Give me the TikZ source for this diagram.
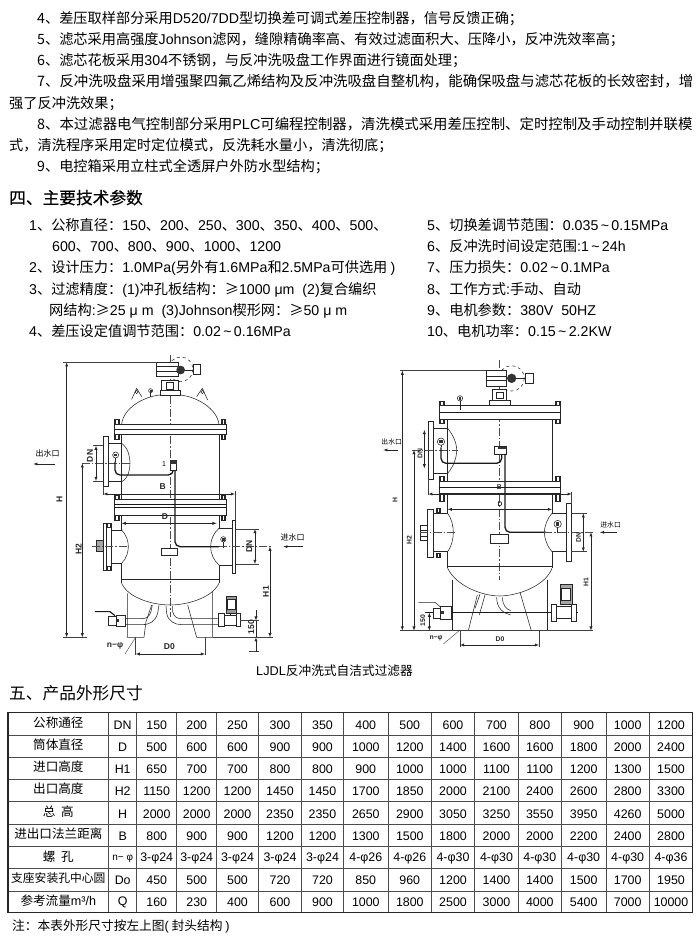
\documentclass[tikz,border=0pt]{standalone}
\usepackage{fontspec}
\setmainfont{Noto Sans CJK SC}
\newfontfamily\arialf{Liberation Sans}
\newfontfamily\headf[FakeBold=0.4]{Noto Sans CJK SC}
\usetikzlibrary{positioning}

\newcommand{\lat}[1]{{\arialf #1}}
\newcommand{\sz}[1]{\fontsize{#1}{#1}\selectfont}
\newcommand{\tld}{\lat{\,\textasciitilde\,}}
\newcommand{\colcx}[1]{\ifcase#1 58.35\or122.7\or156.7\or196.7\or237.5\or280\or322.5\or365.8\or409.8\or453\or496.5\or539.8\or583.65\or627.65\or671\fi}
\newcommand{\rowcy}[1]{\ifcase#1 723.85\or746.15\or768.15\or790.35\or812.85\or835.35\or857.5\or879.65\or901.65\fi}

% bolt through a flange, gauge on its stem
\newcommand{\bolt}[3]{
  \draw[part, fill=white] (#1-7,#2) rectangle (#1+7,#3);
  \draw[part] (#1-4,#2) -- (#1-4,#3) (#1+4,#2) -- (#1+4,#3);
}
\newcommand{\gauge}[4]{
  \draw[part] (#1,#2) -- (#1,#4);
  \draw[part, fill=white] (#1,#2) circle (#3);
  \fill[black!80] (#1-#3*0.45,#2-#3*0.45) rectangle (#1+#3*0.45,#2+#3*0.45);
}

\begin{document}
\begin{tikzpicture}[x=1pt, y=-1pt]

  \tikzstyle{para}=[anchor=west, inner sep=0pt, text height=11pt, text depth=3pt, yshift=-1pt, font=\sz{14.2}, text=black]
  \tikzstyle{fullline}=[para, font=\sz{14.4}]
  \tikzstyle{heading}=[para, font=\sz{16.7}]
  \tikzstyle{caption}=[para, font=\sz{12.7}]
  \tikzstyle{note}=[para, font=\sz{12.7}]
  \tikzstyle{cell}=[inner sep=0pt, font=\arialf\sz{12.4}, text=black]
  \tikzstyle{rowname}=[inner sep=0pt, font=\sz{12.6}, text=black]
  \tikzstyle{tablerule}=[line width=0.6pt, black!70]
  \tikzstyle{tableframe}=[line width=1.3pt, black!85]
  \tikzstyle{part}=[line width=0.55pt, black!85]
  \tikzstyle{heavy}=[line width=1.1pt, black!90]
  \tikzstyle{tube}=[line width=1.3pt, black!90, rounded corners=5pt]
  \tikzstyle{axis}=[line width=0.35pt, black!70, dash pattern=on 8pt off 2pt on 1.5pt off 2pt]
  \tikzstyle{dim}=[latex-latex, line width=0.45pt, black!85]
  \tikzstyle{ext}=[line width=0.4pt, black!75]
  \tikzstyle{dimtext}=[inner sep=0pt, font=\arialf\bfseries\sz{8.5}, text=black!85]
  \tikzstyle{smalltext}=[dimtext, font=\arialf\bfseries\sz{6.8}]
  \tikzstyle{port}=[inner sep=0pt, font=\sz{8}, text=black]

  \useasboundingbox (0,0) rectangle (700,937);

  % text above the drawings
  \node[para] (item4) at (37,18.3) {4、差压取样部分采用\lat{D520/7DD}型切换差可调式差压控制器，信号反馈正确；};
  \node[para] (item5) at (37,39.3) {5、滤芯采用高强度\lat{Johnson}滤网，缝隙精确率高、有效过滤面积大、压降小，反冲洗效率高；};
  \node[para] (item6) at (37,60) {6、滤芯花板采用\lat{304}不锈钢，与反冲洗吸盘工作界面进行镜面处理；};
  \node[fullline] (item7) at (37,81.7) {7、反冲洗吸盘采用增强聚四氟乙烯结构及反冲洗吸盘自整机构，能确保吸盘与滤芯花板的长效密封，增};
  \node[para] (item7b) at (9,103.3) {强了反冲洗效果；};
  \node[fullline] (item8) at (37,124.3) {8、本过滤器电气控制部分采用\lat{PLC}可编程控制器，清洗模式采用差压控制、定时控制及手动控制并联模};
  \node[para] (item8b) at (9,145.7) {式，清洗程序采用定时定位模式，反洗耗水量小，清洗彻底；};
  \node[para] (item9) at (37,166.7) {9、电控箱采用立柱式全透屏户外防水型结构；};

  \node[heading, font=\headf\sz{16.7}] (params) at (9,199) {四、主要技术参数};

  \node[para] (param1) at (29,225) {\lat{1}、公称直径：\lat{150}、\lat{200}、\lat{250}、\lat{300}、\lat{350}、\lat{400}、\lat{500}、};
  \node[para] (param1b) at (52,246.7) {\lat{600}、\lat{700}、\lat{800}、\lat{900}、\lat{1000}、\lat{1200}};
  \node[para] (param2) at (29,267.7) {\lat{2}、设计压力：\lat{1.0MPa(}另外有\lat{1.6MPa}和\lat{2.5MPa}可供选用 \lat{)}};
  \node[para] (param3) at (29,289.3) {\lat{3}、过滤精度：\lat{(1)}冲孔板结构：≥\lat{1000 μm \ (2)}复合编织};
  \node[para] (param3b) at (49,310.7) {网结构\lat{:}≥\lat{25 μ m \ (3)Johnson}楔形网：≥\lat{50 μ m}};
  \node[para] (param4) at (29,331.7) {\lat{4}、差压设定值调节范围：\lat{0.02}\tld\lat{0.16MPa}};

  \node[para] (param5) at (427,225) {\lat{5}、切换差调节范围：\lat{0.035}\tld\lat{0.15MPa}};
  \node[para] (param6) at (427,246.7) {\lat{6}、反冲洗时间设定范围\lat{:1}\tld\lat{24h}};
  \node[para] (param7) at (427,267.7) {\lat{7}、压力损失：\lat{0.02}\tld\lat{0.1MPa}};
  \node[para] (param8) at (427,289.3) {\lat{8}、工作方式\lat{:}手动、自动};
  \node[para] (param9) at (427,310.7) {\lat{9}、电机参数：\lat{380V \ 50HZ}};
  \node[para] (param10) at (427,331.7) {\lat{10}、电机功率：\lat{0.15}\tld\lat{2.2KW}};

  % left filter
  \begin{scope}[xshift=20pt, yshift=-350pt, x=0.3333pt, y=-0.3333pt]
    \draw[axis] (450,15) -- (450,800);
    % vessel
    \draw[part] (305,222) .. controls (310,175) and (370,140) .. (420,135) -- (480,135) .. controls (530,140) and (590,175) .. (597,222);
    \draw[part] (305,252) -- (305,447) (597,252) -- (597,447);
    \draw[part] (305,495) -- (305,540) (597,495) -- (597,535);
    \draw[part] (305,640) -- (305,700) (597,645) -- (597,700);
    \draw[part] (305,687) -- (597,687);
    \draw[part] (305,700) .. controls (325,745) and (400,765) .. (450,765) .. controls (500,765) and (575,745) .. (597,700);
    % flanges
    \draw[part, fill=white] (283,222) rectangle (618,252);
    \draw[part] (283,237) -- (618,237);
    \bolt{290}{208}{222} \bolt{610}{208}{222} \bolt{290}{252}{268} \bolt{610}{252}{268}
    \draw[part, fill=white] (283,447) rectangle (618,495);
    \draw[heavy] (283,463) -- (618,463) (283,472) -- (618,472);
    \bolt{290}{435}{447} \bolt{610}{435}{447} \bolt{290}{495}{510} \bolt{610}{495}{510}
    % drive on top
    \draw[part, fill=white] (420,120) rectangle (480,135);
    \draw[part, fill=white] (425,90) rectangle (475,120);
    \draw[part] (438,98) rectangle (460,118);
    \draw[part, dashed] (482,58) circle (37);
    \draw[part, fill=white] (410,37) rectangle (475,80);
    \draw[part] (410,50) -- (475,50) (410,65) -- (475,65);
    \draw[part, fill=white] (520,42) rectangle (540,72);
    \draw[part] (482,60) -- (520,60);
    \fill[black!80] (482,60) circle (13);
    % lugs and top gauge
    \draw[part] (335,148) -- (350,115) -- (365,140);
    \draw[part] (530,140) -- (547,115) -- (563,150);
    \draw[part] (350,126) circle (5) (547,126) circle (5);
    \gauge{392}{122}{6}{142}
    % outlet nozzle
    \draw[part] (305,280) -- (265,280) (305,395) -- (265,395);
    \draw[part] (305,280) .. controls (325,295) and (330,320) .. (330,340) .. controls (330,360) and (325,385) .. (305,395);
    \draw[part, fill=white] (250,260) rectangle (265,410);
    \draw[axis] (185,340) -- (335,340);
    \gauge{287}{315}{9}{335}
    % sensing tubes
    \draw[tube] (285,335) -- (285,375) -- (460,375) -- (460,355);
    \draw[part, fill=white] (450,330) rectangle (470,362);
    \fill[black!80] (450,330) rectangle (470,342);
    \draw[tube] (465,362) -- (465,590) -- (597,590);
    \node[inner sep=0pt, font=\arialf\sz{7}] (leftone) at (432,341) {1};
    % inlet side
    \draw[part] (305,540) -- (275,540) (305,640) -- (275,640);
    \draw[part] (305,540) .. controls (320,555) and (325,575) .. (325,590) .. controls (325,605) and (320,625) .. (305,640);
    \draw[part, fill=white] (250,520) rectangle (275,660);
    \draw[part, fill=black!35] (230,570) rectangle (250,605);
    \draw[part] (258,520) -- (258,660);
    \bolt{266}{520}{532} \bolt{266}{648}{660}
    \draw[axis] (215,590) -- (325,590);
    \draw[part] (597,535) -- (637,535) (597,645) -- (637,645);
    \draw[part] (597,535) .. controls (580,550) and (572,570) .. (572,590) .. controls (572,610) and (580,630) .. (597,645);
    \draw[part, fill=white] (637,510) rectangle (647,670);
    \gauge{610}{568}{8}{595}
    \draw[part, fill=white] (425,595) rectangle (472,617);
    \draw[axis] (597,590) -- (755,590);
    % supports and drain pipes
    \draw[part] (322,730) -- (322,862) -- (372,862) -- (378,815) -- (395,765);
    \draw[part] (503,765) -- (530,862) -- (578,862) -- (578,725);
    \draw[part] (397,765) -- (393,785) .. controls (388,800) and (380,806) .. (365,806) -- (315,806);
    \draw[part] (417,765) -- (413,790) .. controls (405,815) and (390,824) .. (365,824) -- (315,824);
    \draw[part] (438,768) -- (440,790) .. controls (445,815) and (465,824) .. (485,824) -- (595,824);
    \draw[part] (458,768) -- (458,785) .. controls (462,800) and (470,806) .. (485,806) -- (595,806);
    % valves
    \draw[part, fill=white] (265,800) rectangle (290,825);
    \draw[part, fill=white] (290,797) rectangle (315,828);
    \fill[black!80] (287,808) rectangle (296,817);
    \draw[heavy] (225,785) -- (270,785) -- (285,797);
    \draw[part, fill=white] (595,790) rectangle (612,830);
    \draw[part, fill=white] (612,797) rectangle (648,825);
    \draw[part, fill=white] (648,790) rectangle (660,830);
    \draw[part] (630,790) -- (630,797);
    \draw[part, fill=black!40] (618,738) rectangle (650,790);
    \draw[part, fill=white] (622,748) rectangle (645,778);
    % dimensions
    \draw[ext] (130,37) -- (410,37);
    \draw[dim] (140,37) -- (140,862);
    \draw[ext] (130,862) -- (200,862);
    \draw[dim] (187,340) -- (187,862);
    \node[dimtext, rotate=90] (leftH) at (118,447) {H};
    \node[dimtext, rotate=90] (leftHtwo) at (176,597) {H2};
    \draw[dim] (228,287) -- (228,393);
    \draw[ext] (220,287) -- (250,287) (220,393) -- (250,393);
    \node[dimtext, rotate=90] (leftDNa) at (210,318) {DN};
    \node[port] (leftout) at (83,310) {出水口};
    \draw[dim, latex-] (40,342) -- (105,342);
    \draw[dim] (250,432) -- (645,432);
    \draw[ext] (250,412) -- (250,436) (645,422) -- (645,510);
    \node[dimtext] (leftB) at (428,410) {B};
    \draw[dim] (305,520) -- (590,520);
    \node[dimtext] (leftD) at (435,500) {D};
    \draw[ext] (647,537) -- (716,537) (647,642) -- (716,642);
    \draw[dim] (705,537) -- (705,642);
    \node[dimtext, rotate=90] (leftDNb) at (688,590) {DN};
    \node[port] (leftin) at (818,562) {进水口};
    \draw[dim, latex-] (790,590) -- (850,590);
    \draw[dim] (750,590) -- (750,862);
    \draw[ext] (578,862) -- (760,862);
    \node[dimtext, rotate=90] (leftHone) at (738,725) {H1};
    \draw[ext] (660,812) -- (716,812) (688,905) -- (716,905);
    \draw[dim, -latex] (708,780) -- (708,812);
    \draw[dim, -latex] (708,905) -- (708,862);
    \draw[part] (708,812) -- (708,862);
    \node[dimtext, rotate=90] (leftfifty) at (694,832) {150};
    \node[dimtext] (leftbolts) at (285,888) {n−φ};
    \draw[ext] (315,912) -- (345,865);
    \draw[ext] (347,862) -- (347,916) (555,862) -- (555,916);
    \draw[dim] (347,912) -- (555,912);
    \node[dimtext] (leftDzero) at (448,890) {D0};
  \end{scope}

  % right filter
  \begin{scope}[xshift=370pt, yshift=-350pt, x=0.3333pt, y=-0.3333pt]
    \draw[axis] (388,30) -- (388,690);
    % vessel
    \draw[part] (233,208) -- (233,395) (546,208) -- (546,395);
    \draw[part] (233,430) -- (233,490) (546,430) -- (546,490);
    \draw[part] (233,605) -- (233,655) (546,605) -- (546,655);
    \draw[part] (233,650) -- (546,650);
    \draw[part] (233,655) .. controls (260,710) and (340,738) .. (388,738) .. controls (440,738) and (525,710) .. (546,655);
    % flanges
    \draw[part, fill=white] (207,167) rectangle (572,208);
    \draw[heavy] (207,187) -- (572,187);
    \bolt{215}{155}{167} \bolt{563}{155}{167} \bolt{215}{208}{220} \bolt{563}{208}{220}
    \draw[part, fill=white] (207,395) rectangle (572,430);
    \draw[heavy] (207,412) -- (572,412);
    \bolt{215}{380}{395} \bolt{563}{380}{395} \bolt{215}{430}{455} \bolt{563}{430}{455}
    % drive on top
    \draw[part, fill=white] (358,150) rectangle (420,165);
    \draw[part, fill=white] (368,118) rectangle (410,150);
    \draw[part] (378,126) rectangle (400,146);
    \draw[part, dashed] (425,85) circle (38);
    \draw[part, fill=white] (348,62) rectangle (410,108);
    \draw[part] (348,78) -- (410,78) (348,92) -- (410,92);
    \draw[part, fill=white] (465,70) rectangle (490,100);
    \draw[part] (425,85) -- (465,85);
    \fill[black!80] (425,85) circle (14);
    \gauge{270}{145}{8}{180}
    % outlet nozzle
    \draw[part] (233,235) -- (190,235) (233,370) -- (190,370);
    \draw[part] (233,235) .. controls (250,255) and (260,280) .. (260,300) .. controls (260,325) and (250,350) .. (233,370);
    \draw[part, fill=white] (175,215) rectangle (190,388);
    \draw[axis] (125,300) -- (265,300);
    \gauge{213}{275}{11}{292}
    % sensing tubes
    \draw[tube] (213,292) -- (213,340) -- (395,340) -- (395,312);
    \draw[part, fill=white] (372,290) rectangle (410,312);
    \fill[black!80] (385,290) rectangle (410,298);
    \draw[tube] (405,312) -- (405,547) -- (528,547);
    \gauge{563}{522}{11}{550}
    % inlet side
    \draw[part] (233,490) -- (190,490) (233,605) -- (190,605);
    \draw[part] (233,490) .. controls (245,505) and (250,530) .. (250,547) .. controls (250,565) and (245,590) .. (233,605);
    \draw[part, fill=white] (173,478) rectangle (190,622);
    \draw[part, fill=white] (150,525) rectangle (173,572);
    \draw[part] (150,540) -- (173,540) (150,558) -- (173,558);
    \bolt{205}{474}{486} \bolt{205}{609}{621}
    \draw[axis] (150,547) -- (260,547);
    \draw[part] (546,490) -- (590,490) (546,605) -- (590,605);
    \draw[part] (546,490) .. controls (532,505) and (523,530) .. (523,547) .. controls (523,565) and (532,590) .. (546,605);
    \draw[part, fill=white] (590,460) rectangle (603,635);
    \draw[axis] (523,547) -- (672,547);
    \draw[part, fill=white] (360,552) rectangle (415,580);
    % supports and drain pipes
    \draw[part] (247,690) -- (247,842) (532,690) -- (532,842);
    \draw[part] (295,842) -- (322,735) (484,842) -- (450,727);
    \draw[heavy] (247,841) -- (295,841) (484,841) -- (532,841);
    \draw[part] (330,733) -- (315,775) (345,735) -- (328,795);
    \draw[part] (380,742) .. controls (380,775) and (400,790) .. (422,795);
    \draw[part] (398,742) .. controls (396,765) and (410,778) .. (422,782);
    \draw[heavy] (165,788) -- (625,788);
    % valves
    \draw[part, fill=white] (190,775) rectangle (210,805);
    \draw[part, fill=white] (210,770) rectangle (245,808);
    \fill[black!80] (212,783) rectangle (222,793);
    \draw[part] (145,757) -- (195,757) -- (210,770);
    \draw[part, fill=white] (545,762) rectangle (560,815);
    \draw[part, fill=white] (560,770) rectangle (605,805);
    \draw[part, fill=white] (605,762) rectangle (620,815);
    \draw[part, fill=black!35] (570,703) rectangle (607,762);
    \draw[part, fill=white] (575,715) rectangle (602,750);
    % dimensions
    \draw[ext] (90,62) -- (348,62);
    \draw[ext] (90,842) -- (670,842);
    \draw[dim] (97,62) -- (97,842);
    \draw[dim] (132,300) -- (132,842);
    \node[smalltext, rotate=90] (rightH) at (75,450) {H};
    \node[smalltext, rotate=90] (rightHtwo) at (118,570) {H2};
    \draw[dim] (163,240) -- (163,355);
    \node[smalltext, rotate=90] (rightDNa) at (150,312) {DN};
    \node[port, font=\sz{6.8}] (rightout) at (65,277) {出水口};
    \draw[dim, latex-] (40,300) -- (85,300);
    \draw[ext] (175,388) -- (175,436) (605,425) -- (605,465);
    \draw[dim] (175,432) -- (605,432);
    \node[smalltext] (rightB) at (388,412) {B};
    \draw[dim] (233,478) -- (546,478);
    \node[smalltext] (rightD) at (390,462) {D};
    \draw[ext] (603,490) -- (650,490) (603,605) -- (650,605);
    \draw[dim] (640,490) -- (640,605);
    \node[smalltext, rotate=90] (rightDNb) at (626,562) {DN};
    \node[port, font=\sz{6.8}] (rightin) at (722,525) {进水口};
    \draw[dim, latex-] (690,547) -- (740,547);
    \draw[dim] (663,547) -- (663,842);
    \node[smalltext, rotate=90] (rightHone) at (648,697) {H1};
    \draw[dim] (178,788) -- (178,842);
    \node[smalltext, rotate=90] (rightfifty) at (158,812) {150};
    \node[smalltext] (rightbolts) at (198,866) {n−φ};
    \draw[ext] (220,882) -- (268,842);
    \draw[ext] (270,842) -- (270,890) (507,842) -- (507,890);
    \draw[dim] (270,885) -- (507,885);
    \node[smalltext] (rightDzero) at (390,868) {D0};
  \end{scope}

  \node[caption] (figname) at (256,670) {\lat{LJDL}反冲洗式自洁式过滤器};

  \node[heading] (sizes) at (9,694) {五、产品外形尺寸};

  % size table
  \foreach \x in {108.7,136.7,176.7,216.7,258.3,301.7,343.3,388.3,431.3,474.7,518.3,561.3,606,649.3}
    \draw[tablerule] (\x,712.7) -- (\x,912.3);
  \foreach \y in {735,757.3,779,801.7,824,846.7,868.3,891}
    \draw[tablerule] (8,\y) -- (692.7,\y);
  \draw[tableframe] (8,712.7) rectangle (692.7,912.3);

  \foreach \tablerow [count=\r from 0] in {
    {公称通径,DN,150,200,250,300,350,400,500,600,700,800,900,1000,1200},
    {筒体直径,D,500,600,600,900,900,1000,1200,1400,1600,1600,1800,2000,2400},
    {进口高度,H1,650,700,700,800,800,900,1000,1000,1100,1100,1200,1300,1500},
    {出口高度,H2,1150,1200,1200,1450,1450,1700,1850,2000,2100,2400,2600,2800,3300},
    {总\ \ 高,H,2000,2000,2000,2350,2350,2650,2900,3050,3250,3550,3950,4260,5000},
    {进出口法兰距离,B,800,900,900,1200,1200,1300,1500,1800,2000,2000,2200,2400,2800},
    {螺\ \ 孔,\sz{10}n− φ,3-φ24,3-φ24,3-φ24,3-φ24,3-φ24,4-φ26,4-φ26,4-φ30,4-φ30,4-φ30,4-φ30,4-φ30,4-φ36},
    {\sz{11.8}支座安装孔中心圆,Do,450,500,500,720,720,850,960,1200,1400,1400,1500,1700,1950},
    {参考流量\lat{m³/h},Q,160,230,400,600,900,1000,1800,2500,3000,4000,5400,7000,10000}}
    \foreach \val [count=\c from 0] in \tablerow {
      \edef\cx{\colcx{\c}}
      \edef\cy{\rowcy{\r}}
      \ifnum\c=0
        \node[rowname] (cell-\r-\c) at (\cx,\cy-1.2) {\val};
      \else
        \node[cell] (cell-\r-\c) at (\cx,\cy+1) {\val};
      \fi
    };

  \node[note] (tablenote) at (12,925) {注：本表外形尺寸按左上图\lat{(} 封头结构 \lat{)}};

\end{tikzpicture}
\end{document}
